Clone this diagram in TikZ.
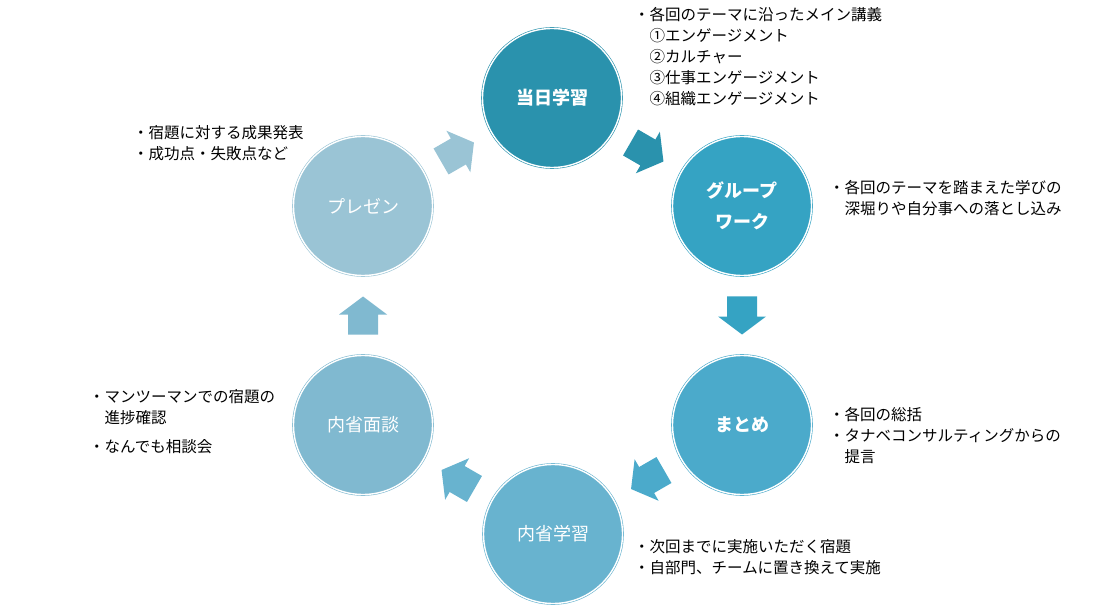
\documentclass[tikz,border=0pt]{standalone}
\usepackage{fontspec}
\setmainfont{Noto Sans CJK JP}
\usetikzlibrary{calc}

\definecolor{cToujitsu}{RGB}{42,146,173}
\definecolor{cGroup}{RGB}{53,163,195}
\definecolor{cMatome}{RGB}{75,170,203}
\definecolor{cNaisei}{RGB}{104,179,207}
\definecolor{cMendan}{RGB}{128,185,208}
\definecolor{cPresen}{RGB}{154,196,213}

\begin{document}
\begin{tikzpicture}[x=1pt, y=-1pt,
      every node/.append style={font=\fontsize{15.5pt}{21pt}\selectfont},
      stage/.style={circle, minimum size=139pt, inner sep=0pt, fill=#1, draw=#1,
        double=white, double distance=1.4pt, line width=0.6pt,
        text=white, align=center, font=\fontsize{18pt}{31pt}\selectfont}]
    \tikzstyle{note} = [anchor=north west, align=left, inner sep=0pt, text=black]
    \useasboundingbox (0,0) rectangle (1100,612);
    % the six stages
    \node (toujitsu) [stage=cToujitsu, font=\fontsize{18pt}{31pt}\selectfont\bfseries] at (552,98) {当日学習};
    \node (group) [stage=cGroup, font=\fontsize{18pt}{31pt}\selectfont\bfseries] at (742,206) {グループ\\ワーク};
    \node (matome) [stage=cMatome, font=\fontsize{18pt}{31pt}\selectfont\bfseries] at (742,425) {まとめ};
    \node (naisei) [stage=cNaisei] at (553,534) {内省学習};
    \node (mendan) [stage=cMendan] at (363,425) {内省面談};
    \node (presen) [stage=cPresen] at (363,206) {プレゼン};
    % block arrows between the stages
    \foreach \from/\to/\ang/\col in {presen/toujitsu/30/cPresen, toujitsu/group/-30/cToujitsu,
        group/matome/-90/cGroup, matome/naisei/-150/cMatome,
        naisei/mendan/150/cNaisei, mendan/presen/90/cMendan}
      \fill[\col, shift={($(\from)!0.5!(\to)$)}, rotate=\ang]
        (-19pt,-15pt) -- (1pt,-15pt) -- (1pt,-24pt) -- (19pt,0pt)
        -- (1pt,24pt) -- (1pt,15pt) -- (-19pt,15pt) -- cycle;
    % notes
    \node (toujitsu notes) [note] at (634,7) {・各回のテーマに沿ったメイン講義\\
      \phantom{・}①エンゲージメント\\
      \phantom{・}②カルチャー\\
      \phantom{・}③仕事エンゲージメント\\
      \phantom{・}④組織エンゲージメント};
    \node (group notes) [note] at (829,180) {・各回のテーマを踏まえた学びの\\
      \phantom{・}深堀りや自分事への落とし込み};
    \node (matome notes) [note] at (829,407) {・各回の総括\\
      ・タナベコンサルティングからの\\
      \phantom{・}提言};
    \node (naisei notes) [note] at (634,539) {・次回までに実施いただく宿題\\
      ・自部門、チームに置き換えて実施};
    \node (mendan notes) [note] at (89,389) {・マンツーマンでの宿題の\\
      \phantom{・}進捗確認\\[8pt]
      ・なんでも相談会};
    \node (presen notes) [note] at (133,125) {・宿題に対する成果発表\\
      ・成功点・失敗点など};
\end{tikzpicture}
\end{document}
